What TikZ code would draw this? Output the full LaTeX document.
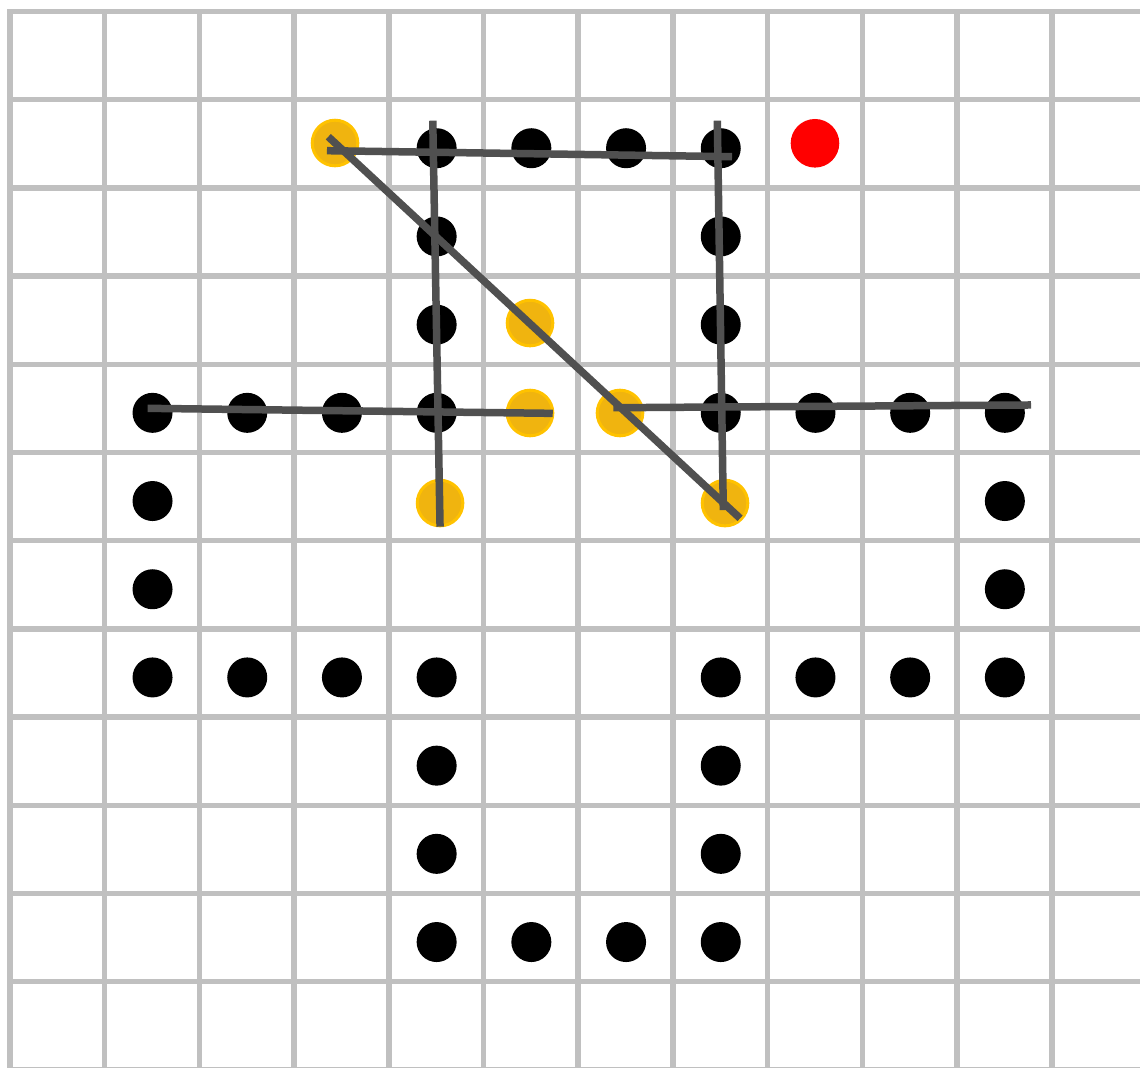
\documentclass[tikz,border=0pt]{standalone}
\definecolor{gridgray}{RGB}{192,192,192}
\definecolor{strokegray}{RGB}{80,80,80}
\definecolor{goldfill}{RGB}{240,180,15}
\definecolor{goldrim}{RGB}{255,194,0}
\begin{document}
\begin{tikzpicture}[x=0.947cm,y=-0.882cm]
  \useasboundingbox (-0.1056,-0.1304) rectangle (11.932,11.978);
  \clip (-0.1056,-0.1304) rectangle (11.932,11.978);
  \foreach \i in {0,...,12}
    {\draw[gridgray,line width=0.055cm,line cap=rect] (\i,0) -- (\i,12.2);
     \draw[gridgray,line width=0.055cm,line cap=rect] (0,\i) -- (12.2,\i);}
  % black points
  \foreach \c/\r in {4/1,5/1,6/1,7/1,4/2,7/2,4/3,7/3,
                     1/4,2/4,3/4,4/4,7/4,8/4,9/4,10/4,
                     1/5,10/5,1/6,10/6,
                     1/7,2/7,3/7,4/7,7/7,8/7,9/7,10/7,
                     4/8,7/8,4/9,7/9,4/10,5/10,6/10,7/10}
    {\fill[black] (\c+0.505,\r+0.55) circle (0.2cm);}
  % hit points
  \foreach \p in {(3.432,1.491),(5.491,3.532),(5.491,4.552),(6.441,4.552),(4.541,5.573),(7.550,5.573)}
    {\filldraw[fill=goldfill,draw=goldrim,line width=0.03cm] \p circle (0.228cm);}
  \fill[red] (8.5,1.494) circle (0.243cm);
  % strokes
  \coordinate (T1) at (3.347,1.578);  \coordinate (T2) at (7.624,1.646);
  \coordinate (L1) at (4.464,1.238);  \coordinate (L2) at (4.541,5.841);
  \coordinate (R1) at (7.469,1.238);  \coordinate (R2) at (7.532,5.652);
  \coordinate (D1) at (3.361,1.420);  \coordinate (D2) at (7.709,5.746);
  \coordinate (M1) at (1.454,4.499);  \coordinate (M2) at (5.731,4.556);
  \coordinate (N1) at (6.371,4.492);  \coordinate (N2) at (10.781,4.461);
  \foreach \a/\b in {T1/T2,L1/L2,R1/R2,D1/D2,M1/M2,N1/N2}
    \draw[strokegray,line width=0.075cm] (\a) -- (\b);
\end{tikzpicture}
\end{document}
